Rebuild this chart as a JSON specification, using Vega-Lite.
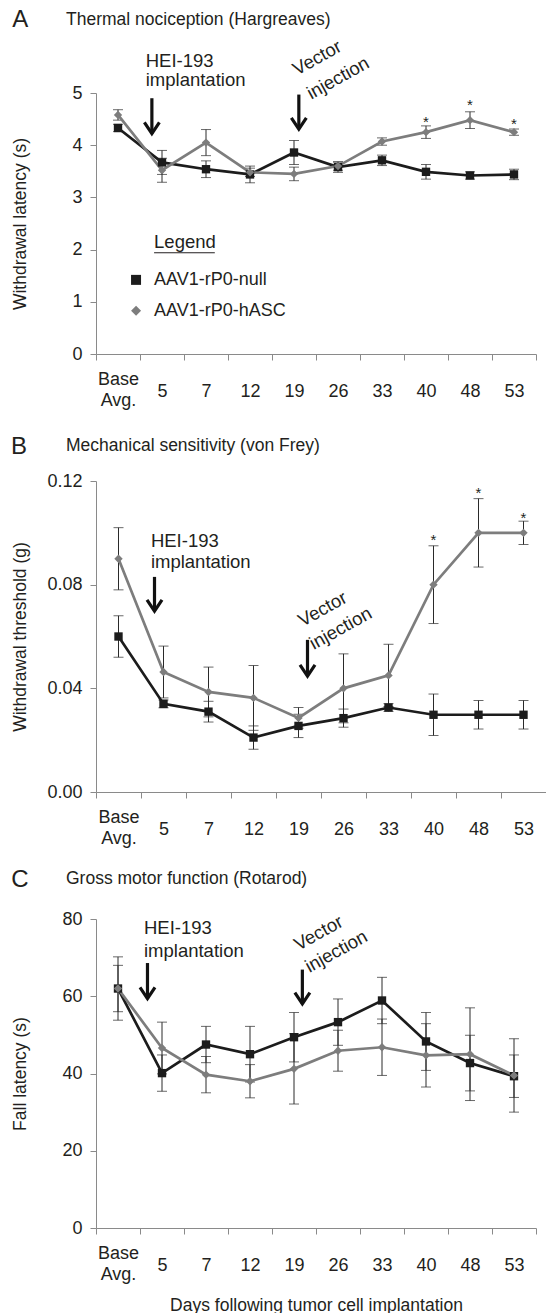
{
  "$schema": "https://vega.github.io/schema/vega-lite/v6.json",
  "background": "white",
  "padding": {"left": 10, "top": 8, "right": 0, "bottom": 0},
  "bounds": "flush",
  "spacing": 127,
  "datasets": {
    "thermal": [
      {"day": "Base", "group": "AAV1-rP0-null", "mean": 4.33, "err": 0.07},
      {"day": "5", "group": "AAV1-rP0-null", "mean": 3.67, "err": 0.23},
      {"day": "7", "group": "AAV1-rP0-null", "mean": 3.54, "err": 0.16},
      {"day": "12", "group": "AAV1-rP0-null", "mean": 3.44, "err": 0.16},
      {"day": "19", "group": "AAV1-rP0-null", "mean": 3.86, "err": 0.23},
      {"day": "26", "group": "AAV1-rP0-null", "mean": 3.58, "err": 0.10},
      {"day": "33", "group": "AAV1-rP0-null", "mean": 3.71, "err": 0.10},
      {"day": "40", "group": "AAV1-rP0-null", "mean": 3.49, "err": 0.14},
      {"day": "48", "group": "AAV1-rP0-null", "mean": 3.42, "err": 0.07},
      {"day": "53", "group": "AAV1-rP0-null", "mean": 3.44, "err": 0.10},
      {"day": "Base", "group": "AAV1-rP0-hASC", "mean": 4.58, "err": 0.10},
      {"day": "5", "group": "AAV1-rP0-hASC", "mean": 3.52, "err": 0.23},
      {"day": "7", "group": "AAV1-rP0-hASC", "mean": 4.05, "err": 0.25},
      {"day": "12", "group": "AAV1-rP0-hASC", "mean": 3.48, "err": 0.08},
      {"day": "19", "group": "AAV1-rP0-hASC", "mean": 3.45, "err": 0.13},
      {"day": "26", "group": "AAV1-rP0-hASC", "mean": 3.60, "err": 0.08},
      {"day": "33", "group": "AAV1-rP0-hASC", "mean": 4.07, "err": 0.07},
      {"day": "40", "group": "AAV1-rP0-hASC", "mean": 4.25, "err": 0.12},
      {"day": "48", "group": "AAV1-rP0-hASC", "mean": 4.48, "err": 0.16},
      {"day": "53", "group": "AAV1-rP0-hASC", "mean": 4.25, "err": 0.06}
    ],
    "mech": [
      {"day": "Base", "group": "AAV1-rP0-null", "mean": 0.060, "err": 0.008},
      {"day": "5", "group": "AAV1-rP0-null", "mean": 0.034, "err": 0.0015},
      {"day": "7", "group": "AAV1-rP0-null", "mean": 0.031, "err": 0.004},
      {"day": "12", "group": "AAV1-rP0-null", "mean": 0.021, "err": 0.0045},
      {"day": "19", "group": "AAV1-rP0-null", "mean": 0.0255, "err": 0.0045},
      {"day": "26", "group": "AAV1-rP0-null", "mean": 0.0285, "err": 0.0035},
      {"day": "33", "group": "AAV1-rP0-null", "mean": 0.0326, "err": 0.0015},
      {"day": "40", "group": "AAV1-rP0-null", "mean": 0.0298, "err": 0.008},
      {"day": "48", "group": "AAV1-rP0-null", "mean": 0.0298, "err": 0.0055},
      {"day": "53", "group": "AAV1-rP0-null", "mean": 0.0298, "err": 0.0055},
      {"day": "Base", "group": "AAV1-rP0-hASC", "mean": 0.090, "err": 0.012},
      {"day": "5", "group": "AAV1-rP0-hASC", "mean": 0.0463, "err": 0.010},
      {"day": "7", "group": "AAV1-rP0-hASC", "mean": 0.0386, "err": 0.0096},
      {"day": "12", "group": "AAV1-rP0-hASC", "mean": 0.0363, "err": 0.0125},
      {"day": "19", "group": "AAV1-rP0-hASC", "mean": 0.0286, "err": 0.004},
      {"day": "26", "group": "AAV1-rP0-hASC", "mean": 0.040, "err": 0.0133},
      {"day": "33", "group": "AAV1-rP0-hASC", "mean": 0.045, "err": 0.012},
      {"day": "40", "group": "AAV1-rP0-hASC", "mean": 0.080, "err": 0.015},
      {"day": "48", "group": "AAV1-rP0-hASC", "mean": 0.100, "err": 0.0132},
      {"day": "53", "group": "AAV1-rP0-hASC", "mean": 0.100, "err": 0.0045}
    ],
    "motor": [
      {"day": "Base", "group": "AAV1-rP0-null", "mean": 62.0, "err": 8.2},
      {"day": "5", "group": "AAV1-rP0-null", "mean": 40.1, "err": 4.7},
      {"day": "7", "group": "AAV1-rP0-null", "mean": 47.5, "err": 4.7},
      {"day": "12", "group": "AAV1-rP0-null", "mean": 45.0, "err": 7.2},
      {"day": "19", "group": "AAV1-rP0-null", "mean": 49.4, "err": 6.4},
      {"day": "26", "group": "AAV1-rP0-null", "mean": 53.3, "err": 6.0},
      {"day": "33", "group": "AAV1-rP0-null", "mean": 58.9, "err": 6.0},
      {"day": "40", "group": "AAV1-rP0-null", "mean": 48.3, "err": 7.5},
      {"day": "48", "group": "AAV1-rP0-null", "mean": 42.7, "err": 7.2},
      {"day": "53", "group": "AAV1-rP0-null", "mean": 39.3, "err": 5.5},
      {"day": "Base", "group": "AAV1-rP0-hASC", "mean": 62.0, "err": 6.0},
      {"day": "5", "group": "AAV1-rP0-hASC", "mean": 46.6, "err": 6.7},
      {"day": "7", "group": "AAV1-rP0-hASC", "mean": 39.7, "err": 4.7},
      {"day": "12", "group": "AAV1-rP0-hASC", "mean": 38.0, "err": 4.3},
      {"day": "19", "group": "AAV1-rP0-hASC", "mean": 41.2, "err": 9.1},
      {"day": "26", "group": "AAV1-rP0-hASC", "mean": 45.9, "err": 5.3},
      {"day": "33", "group": "AAV1-rP0-hASC", "mean": 46.8, "err": 7.3},
      {"day": "40", "group": "AAV1-rP0-hASC", "mean": 44.7, "err": 8.2},
      {"day": "48", "group": "AAV1-rP0-hASC", "mean": 45.0, "err": 12.0},
      {"day": "53", "group": "AAV1-rP0-hASC", "mean": 39.5, "err": 9.5}
    ],
    "stars_thermal": [{"day": "40", "y": 4.52}, {"day": "48", "y": 4.84}, {"day": "53", "y": 4.49}],
    "stars_mech": [{"day": "40", "y": 0.0988}, {"day": "48", "y": 0.117}, {"day": "53", "y": 0.1074}],
    "text_thermal": [
      {"ax": 1.13, "ay": 5.62, "label": "HEI-193"},
      {"ax": 1.13, "ay": 5.24, "label": "implantation"},
      {"ax": 1.32, "ay": 2.15, "label": "Legend"}
    ],
    "text_mech": [
      {"ax": 1.22, "ay": 0.0968, "label": "HEI-193"},
      {"ax": 1.22, "ay": 0.0888, "label": "implantation"}
    ],
    "text_motor": [
      {"ax": 1.09, "ay": 77.7, "label": "HEI-193"},
      {"ax": 1.09, "ay": 71.7, "label": "implantation"}
    ],
    "rot_thermal": [
      {"ax": 4.57, "ay": 5.33, "label": "Vector"},
      {"ax": 4.89, "ay": 4.87, "label": "injection"}
    ],
    "rot_mech": [
      {"ax": 4.59, "ay": 0.0637, "label": "Vector"},
      {"ax": 4.84, "ay": 0.0548, "label": "injection"}
    ],
    "rot_motor": [
      {"ax": 4.60, "ay": 71.7, "label": "Vector"},
      {"ax": 4.85, "ay": 66.0, "label": "injection"}
    ],
    "arrows_thermal": [
      {"ax": 1.27, "ytop": 4.90, "ytip": 4.22},
      {"ax": 4.61, "ytop": 4.97, "ytip": 4.31}
    ],
    "arrows_mech": [
      {"ax": 1.30, "ytop": 0.0830, "ytip": 0.0698},
      {"ax": 4.70, "ytop": 0.0587, "ytip": 0.0447}
    ],
    "arrows_motor": [
      {"ax": 1.17, "ytop": 68.6, "ytip": 59.4},
      {"ax": 4.69, "ytop": 66.9, "ytip": 58.0}
    ],
    "letter_thermal": [{"ax": -1.72, "ay": 6.39, "label": "A"}],
    "letter_mech": [{"ax": -1.71, "ay": 0.1332, "label": "B"}],
    "letter_motor": [{"ax": -1.73, "ay": 90.1, "label": "C"}],
    "legend_rows": [
      {"group": "AAV1-rP0-null", "sx": 0.91, "lx": 1.32, "ay": 1.42},
      {"group": "AAV1-rP0-hASC", "sx": 0.91, "lx": 1.32, "ay": 0.83}
    ],
    "underline": [{"ax": 1.32, "ax2": 2.70, "ay": 1.94}]
  },
  "vconcat": [
    {
      "width": 440,
      "height": 261,
      "title": {"text": "Thermal nociception (Hargreaves)"},
      "layer": [
        {
          "data": {"name": "thermal"},
          "layer": [
            {
              "mark": {"type": "errorbar", "ticks": {"size": 10}, "color": "#2a2a2a", "thickness": 1},
              "encoding": {
                "x": {"field": "day", "type": "ordinal", "sort": ["Base", "5", "7", "12", "19", "26", "33", "40", "48", "53"], "scale": {"type": "band", "domain": ["Base", "5", "7", "12", "19", "26", "33", "40", "48", "53"], "paddingInner": 0, "paddingOuter": 0}, "title": null,
                  "axis": {"tickBand": "extent", "labelAngle": 0, "labelExpr": "datum.value == 'Base' ? ['Base', 'Avg.'] : datum.label", "labelBaseline": "middle", "labelPadding": {"condition": {"test": "datum.value == 'Base'", "value": 19}, "value": 31}, "labelLineHeight": 21, "labelOverlap": false}},
                "y": {"field": "mean", "type": "quantitative", "scale": {"domain": [0, 5], "nice": false}, "title": "Withdrawal latency (s)", "axis": {"values": [0, 1, 2, 3, 4, 5]}},
                "yError": {"field": "err"}
              }
            },
            {
              "mark": {"type": "line", "strokeWidth": 2.7},
              "encoding": {
                "x": {"field": "day", "type": "ordinal", "sort": ["Base", "5", "7", "12", "19", "26", "33", "40", "48", "53"], "title": null},
                "y": {"field": "mean", "type": "quantitative", "title": "Withdrawal latency (s)"},
                "color": {"field": "group", "type": "nominal", "scale": {"domain": ["AAV1-rP0-null", "AAV1-rP0-hASC"], "range": ["#1c1c1c", "#7d7d7d"]}, "legend": null},
                "order": {"value": null}
              }
            },
            {
              "mark": {"type": "point", "filled": true, "opacity": 1, "size": 70},
              "encoding": {
                "x": {"field": "day", "type": "ordinal", "sort": ["Base", "5", "7", "12", "19", "26", "33", "40", "48", "53"], "title": null},
                "y": {"field": "mean", "type": "quantitative", "title": "Withdrawal latency (s)"},
                "color": {"field": "group", "type": "nominal", "scale": {"domain": ["AAV1-rP0-null", "AAV1-rP0-hASC"], "range": ["#1c1c1c", "#7d7d7d"]}, "legend": null},
                "shape": {"field": "group", "type": "nominal", "scale": {"domain": ["AAV1-rP0-null", "AAV1-rP0-hASC"], "range": ["square", "diamond"]}, "legend": null}
              }
            },
            {
              "data": {"name": "stars_thermal"},
              "mark": {"type": "text", "text": "*", "fontSize": 15, "dy": 4},
              "encoding": {
                "x": {"field": "day", "type": "ordinal", "sort": ["Base", "5", "7", "12", "19", "26", "33", "40", "48", "53"], "title": null},
                "y": {"field": "y", "type": "quantitative", "title": "Withdrawal latency (s)"}
              }
            }
          ]
        },
        {
          "layer": [
            {
              "data": {"name": "text_thermal"},
              "mark": {"type": "text", "align": "left", "baseline": "middle", "fontSize": 18.5},
              "encoding": {
                "x": {"field": "ax", "type": "quantitative", "scale": {"domain": [0, 10], "nice": false, "zero": false}, "axis": null},
                "y": {"field": "ay", "type": "quantitative", "title": "Withdrawal latency (s)"},
                "text": {"field": "label"}
              }
            },
            {
              "data": {"name": "rot_thermal"},
              "mark": {"type": "text", "align": "left", "baseline": "alphabetic", "angle": 331, "fontSize": 18.5},
              "encoding": {
                "x": {"field": "ax", "type": "quantitative", "axis": null},
                "y": {"field": "ay", "type": "quantitative", "title": "Withdrawal latency (s)"},
                "text": {"field": "label"}
              }
            },
            {
              "data": {"name": "arrows_thermal"},
              "mark": {"type": "rule", "strokeWidth": 3.2, "color": "#111111"},
              "encoding": {
                "x": {"field": "ax", "type": "quantitative", "axis": null},
                "y": {"field": "ytop", "type": "quantitative", "title": "Withdrawal latency (s)"},
                "y2": {"field": "ytip"}
              }
            },
            {
              "data": {"name": "arrows_thermal"},
              "mark": {"type": "point", "shape": "M-1,-1.5L0,0L1,-1.5", "size": 225, "filled": false, "strokeWidth": 3.2, "color": "#111111", "opacity": 1},
              "encoding": {
                "x": {"field": "ax", "type": "quantitative", "axis": null},
                "y": {"field": "ytip", "type": "quantitative", "title": "Withdrawal latency (s)"}
              }
            },
            {
              "data": {"name": "letter_thermal"},
              "mark": {"type": "text", "align": "center", "baseline": "middle", "fontSize": 24},
              "encoding": {
                "x": {"field": "ax", "type": "quantitative", "axis": null},
                "y": {"field": "ay", "type": "quantitative", "title": "Withdrawal latency (s)"},
                "text": {"field": "label"}
              }
            },
            {
              "data": {"name": "underline"},
              "mark": {"type": "rule", "strokeWidth": 1.2, "color": "#231f20"},
              "encoding": {
                "x": {"field": "ax", "type": "quantitative", "axis": null},
                "x2": {"field": "ax2"},
                "y": {"field": "ay", "type": "quantitative", "title": "Withdrawal latency (s)"}
              }
            },
            {
              "data": {"name": "legend_rows"},
              "mark": {"type": "point", "filled": true, "opacity": 1, "size": 100},
              "encoding": {
                "x": {"field": "sx", "type": "quantitative", "axis": null},
                "y": {"field": "ay", "type": "quantitative", "title": "Withdrawal latency (s)"},
                "color": {"field": "group", "type": "nominal", "scale": {"domain": ["AAV1-rP0-null", "AAV1-rP0-hASC"], "range": ["#1c1c1c", "#7d7d7d"]}, "legend": null},
                "shape": {"field": "group", "type": "nominal", "scale": {"domain": ["AAV1-rP0-null", "AAV1-rP0-hASC"], "range": ["square", "diamond"]}, "legend": null}
              }
            },
            {
              "data": {"name": "legend_rows"},
              "mark": {"type": "text", "align": "left", "baseline": "middle", "fontSize": 18},
              "encoding": {
                "x": {"field": "lx", "type": "quantitative", "axis": null},
                "y": {"field": "ay", "type": "quantitative", "title": "Withdrawal latency (s)"},
                "text": {"field": "group"}
              }
            }
          ]
        }
      ],
      "resolve": {"scale": {"x": "independent"}}
    },
    {
      "width": 450,
      "height": 311,
      "title": {"text": "Mechanical sensitivity (von Frey)"},
      "layer": [
        {
          "data": {"name": "mech"},
          "layer": [
            {
              "mark": {"type": "errorbar", "ticks": {"size": 10}, "color": "#2a2a2a", "thickness": 1},
              "encoding": {
                "x": {"field": "day", "type": "ordinal", "sort": ["Base", "5", "7", "12", "19", "26", "33", "40", "48", "53"], "scale": {"type": "band", "domain": ["Base", "5", "7", "12", "19", "26", "33", "40", "48", "53"], "paddingInner": 0, "paddingOuter": 0}, "title": null,
                  "axis": {"tickBand": "extent", "labelAngle": 0, "labelExpr": "datum.value == 'Base' ? ['Base', 'Avg.'] : datum.label", "labelBaseline": "middle", "labelPadding": {"condition": {"test": "datum.value == 'Base'", "value": 19}, "value": 31}, "labelLineHeight": 21, "labelOverlap": false}},
                "y": {"field": "mean", "type": "quantitative", "scale": {"domain": [0, 0.12], "nice": false}, "title": "Withdrawal threshold (g)", "axis": {"values": [0, 0.04, 0.08, 0.12], "format": ".2f"}},
                "yError": {"field": "err"}
              }
            },
            {
              "mark": {"type": "line", "strokeWidth": 2.7},
              "encoding": {
                "x": {"field": "day", "type": "ordinal", "sort": ["Base", "5", "7", "12", "19", "26", "33", "40", "48", "53"], "title": null},
                "y": {"field": "mean", "type": "quantitative", "title": "Withdrawal threshold (g)"},
                "color": {"field": "group", "type": "nominal", "scale": {"domain": ["AAV1-rP0-null", "AAV1-rP0-hASC"], "range": ["#1c1c1c", "#7d7d7d"]}, "legend": null},
                "order": {"value": null}
              }
            },
            {
              "mark": {"type": "point", "filled": true, "opacity": 1, "size": 70},
              "encoding": {
                "x": {"field": "day", "type": "ordinal", "sort": ["Base", "5", "7", "12", "19", "26", "33", "40", "48", "53"], "title": null},
                "y": {"field": "mean", "type": "quantitative", "title": "Withdrawal threshold (g)"},
                "color": {"field": "group", "type": "nominal", "scale": {"domain": ["AAV1-rP0-null", "AAV1-rP0-hASC"], "range": ["#1c1c1c", "#7d7d7d"]}, "legend": null},
                "shape": {"field": "group", "type": "nominal", "scale": {"domain": ["AAV1-rP0-null", "AAV1-rP0-hASC"], "range": ["square", "diamond"]}, "legend": null}
              }
            },
            {
              "data": {"name": "stars_mech"},
              "mark": {"type": "text", "text": "*", "fontSize": 15, "dy": 4},
              "encoding": {
                "x": {"field": "day", "type": "ordinal", "sort": ["Base", "5", "7", "12", "19", "26", "33", "40", "48", "53"], "title": null},
                "y": {"field": "y", "type": "quantitative", "title": "Withdrawal threshold (g)"}
              }
            }
          ]
        },
        {
          "layer": [
            {
              "data": {"name": "text_mech"},
              "mark": {"type": "text", "align": "left", "baseline": "middle", "fontSize": 18.5},
              "encoding": {
                "x": {"field": "ax", "type": "quantitative", "scale": {"domain": [0, 10], "nice": false, "zero": false}, "axis": null},
                "y": {"field": "ay", "type": "quantitative", "title": "Withdrawal threshold (g)"},
                "text": {"field": "label"}
              }
            },
            {
              "data": {"name": "rot_mech"},
              "mark": {"type": "text", "align": "left", "baseline": "alphabetic", "angle": 331, "fontSize": 18.5},
              "encoding": {
                "x": {"field": "ax", "type": "quantitative", "axis": null},
                "y": {"field": "ay", "type": "quantitative", "title": "Withdrawal threshold (g)"},
                "text": {"field": "label"}
              }
            },
            {
              "data": {"name": "arrows_mech"},
              "mark": {"type": "rule", "strokeWidth": 3.2, "color": "#111111"},
              "encoding": {
                "x": {"field": "ax", "type": "quantitative", "axis": null},
                "y": {"field": "ytop", "type": "quantitative", "title": "Withdrawal threshold (g)"},
                "y2": {"field": "ytip"}
              }
            },
            {
              "data": {"name": "arrows_mech"},
              "mark": {"type": "point", "shape": "M-1,-1.5L0,0L1,-1.5", "size": 225, "filled": false, "strokeWidth": 3.2, "color": "#111111", "opacity": 1},
              "encoding": {
                "x": {"field": "ax", "type": "quantitative", "axis": null},
                "y": {"field": "ytip", "type": "quantitative", "title": "Withdrawal threshold (g)"}
              }
            },
            {
              "data": {"name": "letter_mech"},
              "mark": {"type": "text", "align": "center", "baseline": "middle", "fontSize": 24},
              "encoding": {
                "x": {"field": "ax", "type": "quantitative", "axis": null},
                "y": {"field": "ay", "type": "quantitative", "title": "Withdrawal threshold (g)"},
                "text": {"field": "label"}
              }
            }
          ]
        }
      ],
      "resolve": {"scale": {"x": "independent"}}
    },
    {
      "width": 440,
      "height": 309,
      "title": {"text": "Gross motor function (Rotarod)"},
      "layer": [
        {
          "data": {"name": "motor"},
          "layer": [
            {
              "mark": {"type": "errorbar", "ticks": {"size": 10}, "color": "#2a2a2a", "thickness": 1},
              "encoding": {
                "x": {"field": "day", "type": "ordinal", "sort": ["Base", "5", "7", "12", "19", "26", "33", "40", "48", "53"], "scale": {"type": "band", "domain": ["Base", "5", "7", "12", "19", "26", "33", "40", "48", "53"], "paddingInner": 0, "paddingOuter": 0}, "title": "Days following tumor cell implantation",
                  "axis": {"tickBand": "extent", "labelAngle": 0, "labelExpr": "datum.value == 'Base' ? ['Base', 'Avg.'] : datum.label", "labelBaseline": "middle", "labelPadding": {"condition": {"test": "datum.value == 'Base'", "value": 19}, "value": 31}, "labelLineHeight": 21, "labelOverlap": false, "titlePadding": 13}},
                "y": {"field": "mean", "type": "quantitative", "scale": {"domain": [0, 80], "nice": false}, "title": "Fall latency (s)", "axis": {"values": [0, 20, 40, 60, 80]}},
                "yError": {"field": "err"}
              }
            },
            {
              "mark": {"type": "line", "strokeWidth": 2.7},
              "encoding": {
                "x": {"field": "day", "type": "ordinal", "sort": ["Base", "5", "7", "12", "19", "26", "33", "40", "48", "53"], "title": "Days following tumor cell implantation"},
                "y": {"field": "mean", "type": "quantitative", "title": "Fall latency (s)"},
                "color": {"field": "group", "type": "nominal", "scale": {"domain": ["AAV1-rP0-null", "AAV1-rP0-hASC"], "range": ["#1c1c1c", "#7d7d7d"]}, "legend": null},
                "order": {"value": null}
              }
            },
            {
              "mark": {"type": "point", "filled": true, "opacity": 1, "size": 70},
              "encoding": {
                "x": {"field": "day", "type": "ordinal", "sort": ["Base", "5", "7", "12", "19", "26", "33", "40", "48", "53"], "title": "Days following tumor cell implantation"},
                "y": {"field": "mean", "type": "quantitative", "title": "Fall latency (s)"},
                "color": {"field": "group", "type": "nominal", "scale": {"domain": ["AAV1-rP0-null", "AAV1-rP0-hASC"], "range": ["#1c1c1c", "#7d7d7d"]}, "legend": null},
                "shape": {"field": "group", "type": "nominal", "scale": {"domain": ["AAV1-rP0-null", "AAV1-rP0-hASC"], "range": ["square", "diamond"]}, "legend": null}
              }
            }
          ]
        },
        {
          "layer": [
            {
              "data": {"name": "text_motor"},
              "mark": {"type": "text", "align": "left", "baseline": "middle", "fontSize": 18.5},
              "encoding": {
                "x": {"field": "ax", "type": "quantitative", "scale": {"domain": [0, 10], "nice": false, "zero": false}, "axis": null},
                "y": {"field": "ay", "type": "quantitative", "title": "Fall latency (s)"},
                "text": {"field": "label"}
              }
            },
            {
              "data": {"name": "rot_motor"},
              "mark": {"type": "text", "align": "left", "baseline": "alphabetic", "angle": 331, "fontSize": 18.5},
              "encoding": {
                "x": {"field": "ax", "type": "quantitative", "axis": null},
                "y": {"field": "ay", "type": "quantitative", "title": "Fall latency (s)"},
                "text": {"field": "label"}
              }
            },
            {
              "data": {"name": "arrows_motor"},
              "mark": {"type": "rule", "strokeWidth": 3.2, "color": "#111111"},
              "encoding": {
                "x": {"field": "ax", "type": "quantitative", "axis": null},
                "y": {"field": "ytop", "type": "quantitative", "title": "Fall latency (s)"},
                "y2": {"field": "ytip"}
              }
            },
            {
              "data": {"name": "arrows_motor"},
              "mark": {"type": "point", "shape": "M-1,-1.5L0,0L1,-1.5", "size": 225, "filled": false, "strokeWidth": 3.2, "color": "#111111", "opacity": 1},
              "encoding": {
                "x": {"field": "ax", "type": "quantitative", "axis": null},
                "y": {"field": "ytip", "type": "quantitative", "title": "Fall latency (s)"}
              }
            },
            {
              "data": {"name": "letter_motor"},
              "mark": {"type": "text", "align": "center", "baseline": "middle", "fontSize": 24},
              "encoding": {
                "x": {"field": "ax", "type": "quantitative", "axis": null},
                "y": {"field": "ay", "type": "quantitative", "title": "Fall latency (s)"},
                "text": {"field": "label"}
              }
            }
          ]
        }
      ],
      "resolve": {"scale": {"x": "independent"}}
    }
  ],
  "config": {
    "font": "Liberation Sans",
    "view": {"stroke": null},
    "axis": {
      "domainColor": "#8a8a8a", "tickColor": "#8a8a8a", "domainWidth": 1, "tickWidth": 1, "tickSize": 6,
      "labelFont": "Liberation Sans", "labelFontSize": 18, "labelColor": "#231f20",
      "titleFont": "Liberation Sans", "titleFontSize": 17.5, "titleFontWeight": "normal", "titleColor": "#231f20",
      "grid": false
    },
    "axisY": {"labelPadding": 8, "titleX": -76, "titleBaseline": "middle", "titleAlign": "center"},
    "title": {"anchor": "start", "frame": "group", "dx": -30, "fontSize": 17.5, "fontWeight": "normal", "font": "Liberation Sans", "color": "#231f20", "offset": -20},
    "text": {"font": "Liberation Sans", "fontSize": 17, "color": "#231f20"}
  }
}
